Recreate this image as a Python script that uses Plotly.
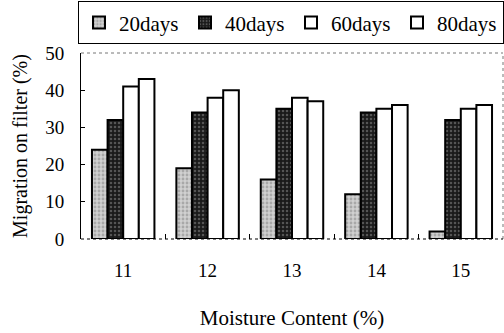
import plotly.graph_objects as go

categories = ["11", "12", "13", "14", "15"]
series_names = ["20days", "40days", "60days", "80days"]
d20 = [24, 19, 16, 12, 2]
d40 = [32, 34, 35, 34, 32]
d60 = [41, 38, 38, 35, 35]
d80 = [43, 40, 37, 36, 36]
y_ticks = [0, 10, 20, 30, 40, 50]

FONT = "Liberation Serif, Times New Roman, serif"
styles = [
    dict(color="#d0d0d0", pattern=dict(shape=".", fgcolor="#808080", bgcolor="#d0d0d0", size=4, solidity=0.4)),
    dict(color="#202020", pattern=dict(shape=".", fgcolor="#909090", bgcolor="#1a1a1a", size=4, solidity=0.3)),
    dict(color="white"),
    dict(color="white"),
]

fig = go.Figure()
for name, vals, st in zip(series_names, [d20, d40, d60, d80], styles):
    fig.add_trace(go.Bar(
        x=categories, y=vals, name=name,
        marker=dict(line=dict(color="black", width=2), **st),
    ))

fig.update_layout(
    width=504, height=333,
    margin=dict(l=81, r=1, t=45, b=94),
    paper_bgcolor="white", plot_bgcolor="white",
    barmode="group", bargap=0.26, bargroupgap=0,
    font=dict(family=FONT, size=19, color="black"),
    legend=dict(
        orientation="h", x=-0.003, xanchor="left", y=1.046, yanchor="bottom",
        bordercolor="black", borderwidth=1, bgcolor="white",
        entrywidth=61, font=dict(family=FONT, size=21),
        itemwidth=30, tracegroupgap=0,
    ),
    xaxis=dict(
        type="category", showline=False,
        ticks="inside", tickson="boundaries", ticklen=5, tickcolor="black",
        ticklabelstandoff=18,
        title=dict(text="Moisture Content (%)", font=dict(family=FONT, size=21), standoff=30),
    ),
    yaxis=dict(
        range=[0, 50], tickvals=y_ticks, showline=True, linecolor="black", linewidth=1,
        ticks="inside", ticklen=4, tickcolor="black", showgrid=False, zeroline=False,
        ticklabelstandoff=12,
        title=dict(text="Migration on filter (%)", font=dict(family=FONT, size=20), standoff=12),
    ),
)
fig.add_shape(type="line", xref="paper", yref="paper", x0=0, x1=1, y0=1, y1=1,
              line=dict(color="#777777", width=1, dash="dot"))
fig.add_shape(type="line", xref="paper", yref="paper", x0=1, x1=1, y0=0, y1=1,
              line=dict(color="#777777", width=1, dash="dot"))
fig.add_shape(type="line", xref="paper", yref="paper", x0=0, x1=1, y0=0, y1=0,
              line=dict(color="black", width=1.2, dash="dot"))

fig.write_html("out.html")
